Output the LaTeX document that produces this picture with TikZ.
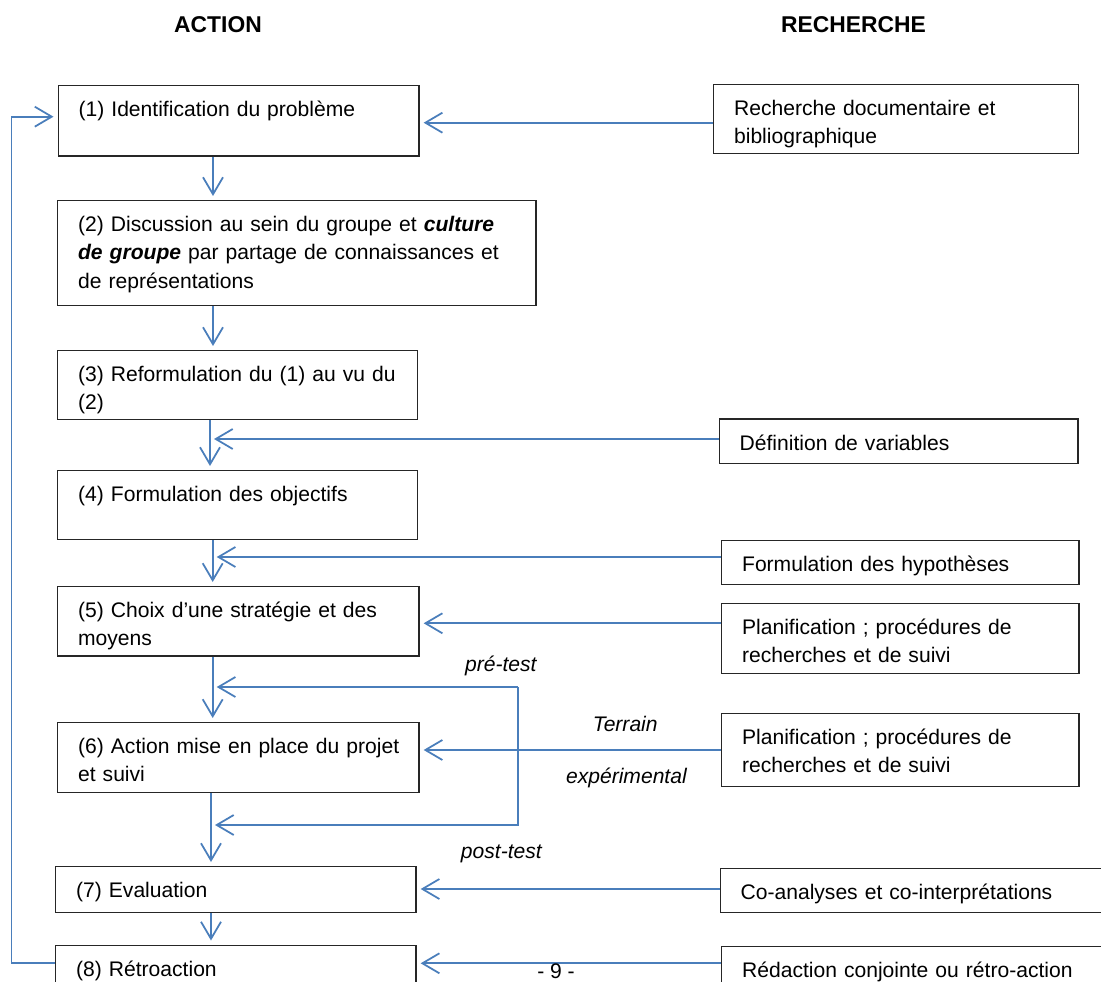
\documentclass[tikz,border=0pt]{standalone}
\usepackage{fontspec}
\setmainfont{Liberation Sans}
\usetikzlibrary{arrows.meta}
\definecolor{arrowblue}{RGB}{74,126,187}
\tikzset{
	box/.style 2 args={draw=black!85, line width=0.7pt, anchor=north west, inner xsep=0.41cm, inner ysep=0pt, align=left, text width=#1, text height=0.62cm, text depth=#2},
	arr/.style={draw=arrowblue, line width=1pt, -{Straight Barb[length=0.34cm,width=0.40cm]}, shorten >=0.08cm},
	coltitle/.style={font=\fontsize{13}{16}\selectfont\bfseries},
	side/.style={font=\fontsize{12}{16}\selectfont\itshape, anchor=base}
}
\begin{document}
\begin{tikzpicture}[x=0.02cm, y=-0.02cm, font=\fontsize{12}{16.1}\selectfont]
			\useasboundingbox (0,0) rectangle (1101,982);
			\clip (0,0) rectangle (1101,982);
			%Column titles
			\node [coltitle] (tAction) at (218,25) {ACTION};
			\node [coltitle] (tRecherche) at (853.5,25) {RECHERCHE};
			%Action column
			\node [box={6.40cm}{0.79cm}] (b1) at (57.5,85) {\mbox{(1) Identification du problème}};
			\node [box={8.75cm}{1.48cm}] (b2) at (57,200) {\mbox{(2) Discussion au sein du groupe et \textbf{\textit{culture}}}\\\mbox{\textbf{\textit{de groupe}} par partage de connaissances et}\\de représentations};
			\node [box={6.38cm}{0.76cm}] (b3) at (57,350) {\mbox{(3) Reformulation du (1) au vu du}\\(2)};
			\node [box={6.38cm}{0.76cm}] (b4) at (57,470) {\mbox{(4) Formulation des objectifs}};
			\node [box={6.41cm}{0.77cm}] (b5) at (57,586) {\mbox{(5) Choix d’une stratégie et des}\\moyens};
			\node [box={6.41cm}{0.78cm}] (b6) at (57,722) {\mbox{(6) Action mise en place du projet}\\et suivi};
			\node [box={6.39cm}{0.30cm}] (b7) at (55,866) {(7) Evaluation};
			\node [box={6.39cm}{0.78cm}] (b8) at (55,944.5) {(8) Rétroaction};
			%Recherche column
			\node [box={6.48cm}{0.76cm}] (r1) at (713,84) {\mbox{Recherche documentaire et}\\bibliographique};
			\node [box={6.36cm}{0.27cm}] (r2) at (718.5,418.5) {Définition de variables};
			\node [box={6.33cm}{0.26cm}] (r3) at (721,540) {Formulation des hypothèses};
			\node [box={6.33cm}{0.79cm}] (r4) at (721,602.5) {\mbox{Planification ; procédures de}\\recherches et de suivi};
			\node [box={6.33cm}{0.85cm}] (r5) at (721,712.5) {\mbox{Planification ; procédures de}\\recherches et de suivi};
			\node [box={7.18cm}{0.26cm}] (r6) at (719.5,868) {\mbox{Co-analyses et co-interprétations}};
			\node [box={7.18cm}{0.78cm}] (r7) at (721,946) {\mbox{Rédaction conjointe ou rétro-action}};
			%Vertical arrows down the action column
			\coordinate (v1) at (213,0);
			\coordinate (v2) at (213,0);
			\coordinate (v3) at (210,0);
			\coordinate (v4) at (212.7,0);
			\coordinate (v5) at (212.7,0);
			\coordinate (v6) at (211,0);
			\coordinate (v7) at (211,0);
			\foreach \i/\j in {1/2,2/3,3/4,4/5,5/6,6/7,7/8} {
				\draw [arr] (b\i.south -| v\i) -- (b\j.north -| v\i);
			}
			%Arrows coming from the recherche column
			\coordinate (h1) at (0,122.7);
			\coordinate (h2) at (0,439);
			\coordinate (h3) at (0,557);
			\coordinate (h4) at (0,623.3);
			\coordinate (h5) at (0,750);
			\coordinate (h6) at (0,889);
			\coordinate (h7) at (0,963.3);
			\draw [arr] (r1.west |- h1) -- (b1.east |- h1);
			\draw [arr] (r2.west |- h2) -- (v3 |- h2);
			\draw [arr] (r3.west |- h3) -- (v4 |- h3);
			\draw [arr] (r4.west |- h4) -- (b5.east |- h4);
			\draw [arr] (r5.west |- h5) -- (b6.east |- h5);
			\draw [arr] (r6.west |- h6) -- (b7.east |- h6);
			\draw [arr] (r7.west |- h7) -- (b8.east |- h7);
			%Pre-test / post-test bracket
			\coordinate (lp1) at (517.7,687);
			\coordinate (lp2) at (517.7,825);
			\draw [arr] (lp1) -- (v5 |- lp1);
			\draw [arr] (lp1) -- (lp2) -- (v6 |- lp2);
			%Feedback loop from (8) back to (1)
			\coordinate (fb) at (11.5,116.7);
			\draw [arr] (b8.west |- h7) -| (fb) -- (b1.west |- fb);
			%Labels
			\node [side] (lPre) at (500.8,671.7) {pré-test};
			\node [side] (lPost) at (501.4,858.3) {post-test};
			\node [side] (lTerrain) at (625.2,731.7) {Terrain};
			\node [side] (lExp) at (626.4,783.3) {expérimental};
			\node [anchor=base] (page) at (556,978) {- 9 -};
\end{tikzpicture}
\end{document}
